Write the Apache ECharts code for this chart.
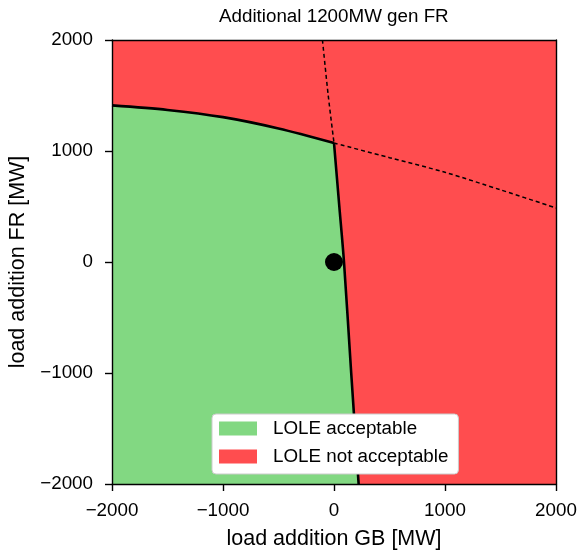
<!DOCTYPE html>
<html>
<head>
<meta charset="utf-8">
<script src="https://cdn.jsdelivr.net/npm/echarts@6/dist/echarts.min.js"></script>
<style>html,body{margin:0;padding:0;background:#fff}#c{width:577px;height:554px}</style>
</head>
<body>
<div id="c"></div>
<script>
// Boundary of acceptable region (upper part: y as function of x)
var upperX = [-2000, -1500, -1000, -500, 0];
var upperY = [1411, 1370, 1305, 1203, 1072];
// Lower part of boundary (below the kink)
var lowerX = [0, 48, 90, 155, 222];
var lowerY = [1072, 500, 0, -1000, -2000];
// Dashed continuation lines
var dashUpX = [-104, -52, 0];
var dashUpY = [2000, 1500, 1072];
var dashRightX = [0, 500, 1000, 1500, 2000];
var dashRightY = [1072, 940, 808, 650, 487];
// Operating point
var pointX = [0];
var pointY = [0];
// Axis ticks
var xTicks = [-2000, -1000, 0, 1000, 2000];
var yTicks = [-2000, -1000, 0, 1000, 2000];

var GREEN = '#82d882';
var RED = '#ff4d4f';
var FONT = 'Liberation Sans, Arial, sans-serif';

function zip(xs, ys) { return xs.map(function (x, i) { return [x, ys[i]]; }); }
var upperPts = zip(upperX, upperY);
var lowerPts = zip(lowerX, lowerY);
var boundary = upperPts.concat(lowerPts.slice(1));
function fmt(v) { return String(v).replace('-', '\u2212'); }

var chart = echarts.init(document.getElementById('c'), null, { renderer: 'canvas' });
var axisLineStyle = { color: '#000', width: 1.4 };
chart.setOption({
  animation: false,
  backgroundColor: '#fff',
  title: {
    text: 'Additional 1200MW gen FR',
    left: 214, top: 2,
    textStyle: { fontFamily: FONT, fontSize: 18.8, fontWeight: 'normal', color: '#000' }
  },
  grid: { left: 112, right: 21, top: 40, bottom: 70, outerBoundsMode: 'none', containLabel: false },
  legend: {
    orient: 'vertical', z: 30, zlevel: 0,
    left: 212, top: 414,
    backgroundColor: '#ffffff',
    borderColor: '#cccccc', borderWidth: 1, borderRadius: 4,
    padding: [4, 10, 7, 7],
    itemWidth: 38, itemHeight: 14, itemGap: 7,
    icon: 'rect',
    textStyle: { fontFamily: FONT, fontSize: 18.8, color: '#000', lineHeight: 21, padding: [0, 0, 0, 11] },
    data: [
      { name: 'LOLE acceptable', itemStyle: { color: GREEN } },
      { name: 'LOLE not acceptable', itemStyle: { color: RED } }
    ]
  },
  xAxis: [{
    type: 'value', min: -2000, max: 2000, interval: 1000, z: 10,
    name: 'load addition GB [MW]', nameLocation: 'middle', nameGap: 44,
    nameTextStyle: { fontFamily: FONT, fontSize: 21.5, color: '#000' },
    axisLine: { show: true, onZero: false, lineStyle: axisLineStyle },
    axisTick: { show: true, inside: false, length: 7, lineStyle: axisLineStyle },
    axisLabel: { margin: 17, fontFamily: FONT, fontSize: 18.8, color: '#000', formatter: fmt,
      customValues: xTicks },
    splitLine: { show: false }
  }, {
    type: 'value', min: -2000, max: 2000, position: 'top', z: 10,
    axisLine: { show: true, onZero: false, lineStyle: axisLineStyle },
    axisTick: { show: false }, axisLabel: { show: false }, splitLine: { show: false }
  }],
  yAxis: [{
    type: 'value', min: -2000, max: 2000, interval: 1000, z: 10,
    name: 'load addition FR [MW]', nameLocation: 'middle', nameGap: 78,
    nameTextStyle: { fontFamily: FONT, fontSize: 21.5, color: '#000' },
    axisLine: { show: true, onZero: false, lineStyle: axisLineStyle },
    axisTick: { show: true, inside: false, length: 7, lineStyle: axisLineStyle },
    axisLabel: { margin: 19, fontFamily: FONT, fontSize: 18.8, color: '#000', formatter: fmt,
      customValues: yTicks },
    splitLine: { show: false }
  }, {
    type: 'value', min: -2000, max: 2000, position: 'right', z: 10,
    axisLine: { show: true, onZero: false, lineStyle: axisLineStyle },
    axisTick: { show: false }, axisLabel: { show: false }, splitLine: { show: false }
  }],
  series: [
    {
      name: 'LOLE not acceptable', type: 'line', z: 1,
      data: [[-2000, 2000], [2000, 2000]],
      showSymbol: false, symbol: 'none',
      lineStyle: { width: 0 },
      itemStyle: { color: RED },
      areaStyle: { color: RED, opacity: 1, origin: 'start' }
    },
    {
      name: 'LOLE acceptable', type: 'line', z: 2,
      data: boundary,
      showSymbol: false, symbol: 'none',
      lineStyle: { width: 0 },
      itemStyle: { color: GREEN },
      areaStyle: { color: GREEN, opacity: 1, origin: 'start' }
    },
    {
      name: 'dashUp', type: 'line', z: 3, data: zip(dashUpX, dashUpY),
      symbol: 'none', smooth: 0.3, lineStyle: { color: '#000', width: 1.5, type: [4, 3] }
    },
    {
      name: 'dashRight', type: 'line', z: 3, data: zip(dashRightX, dashRightY),
      symbol: 'none', smooth: 0.3, lineStyle: { color: '#000', width: 1.5, type: [4, 3] }
    },
    {
      name: 'boundaryUpper', type: 'line', z: 4, data: upperPts,
      symbol: 'none', smooth: 0.3, lineStyle: { color: '#000', width: 2.6 }
    },
    {
      name: 'boundaryLower', type: 'line', z: 4, data: lowerPts,
      symbol: 'none', smooth: 0.3, lineStyle: { color: '#000', width: 2.6 }
    },
    {
      name: 'point', type: 'scatter', z: 5, data: zip(pointX, pointY),
      symbol: 'circle', symbolSize: 18, itemStyle: { color: '#000', opacity: 1 }
    }
  ]
});
</script>
</body>
</html>
